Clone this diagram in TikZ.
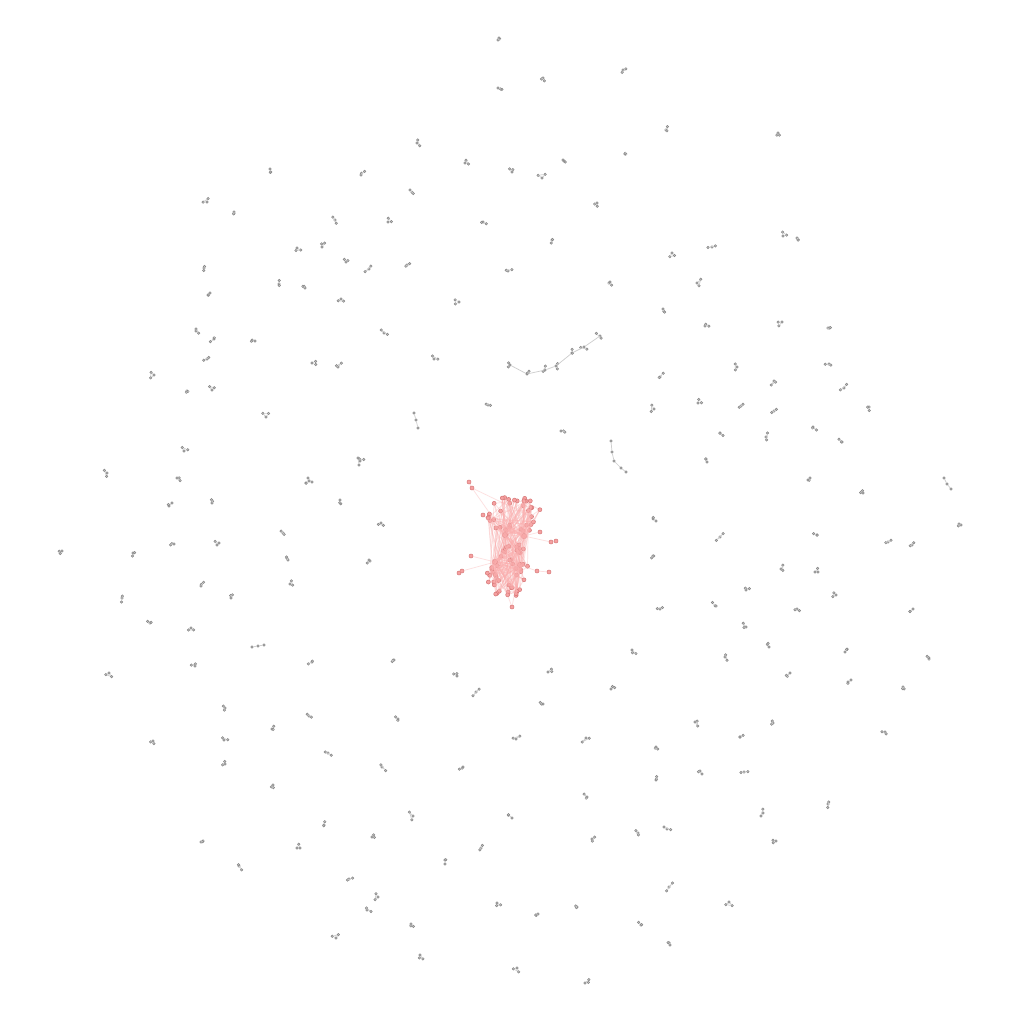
\documentclass[tikz,border=0pt]{standalone}
\usetikzlibrary{calc}
\definecolor{NodeGray}{RGB}{135,135,135}
\definecolor{FillGray}{RGB}{200,200,200}
\definecolor{EdgeGray}{RGB}{205,205,205}
\definecolor{NodeRed}{RGB}{215,120,120}
\definecolor{FillRed}{RGB}{245,160,160}
\definecolor{EdgeRed}{RGB}{250,175,175}
\tikzset{
  gnode/.style={circle,draw=NodeGray,fill=FillGray,inner sep=0pt,minimum size=0.25mm,line width=0.15pt},
  gedge/.style={draw=EdgeGray,line width=0.2pt},
  rnode/.style={circle,draw=NodeRed,fill=FillRed,inner sep=0pt,minimum size=0.4mm,line width=0.15pt},
  rhub/.style={rnode,minimum size=0.55mm},
  redge/.style={draw=EdgeRed,line width=0.2pt,opacity=0.4}
}

\begin{document}
\begin{tikzpicture}[x=0.01cm,y=-0.01cm]
\useasboundingbox[fill=white] (0,0) rectangle (1024,1024);
\pgfmathsetseed{11}
% small gray components
\foreach \x/\y [count=\n] in {498/40,543/78,623/70,498/88,666/130,778/133,417/143,465/163,563/160,625/154,
  270/169,361/175,512/172,542/178,410/190,597/203,207/202,234/212,335/220,388/222,483/222,552/240,783/236,
  797/238,712/247,672/253,297/248,322/247,346/262,407/265,369/269,508/271,204/268,279/284,305/288,697/283,
  610/282,210/293,341/299,459/302,663/309,255/341,214/339,196/331,384/333,705/326,782/322,828/328,434/359,
  312/363,338/367,207/359,154/375,737/367,660/377,829/364,774/381,844/388,187/391,212/390,266/417,488/405,
  654/409,698/403,741/406,774/411,869/407,707/462,720/433,766/437,813/427,842/442,184/451,107/473,177/478,
  309/481,360/461,810/478,561/431,169/506,212/503,340/500,381/523,656/521,863/493,961/525,283/533,720/537,
  817/535,888/542,912/545,62/551,133/553,174/544,219/543,288/560,369/560,653/556,781/569,815/572,122/598,
  201/586,231/598,290/584,746/590,836/595,797/609,913/609,660/609,716/606,150/623,191/628,746/627,632/650,
  769/647,845/652,109/673,195/666,312/662,394/660,725/657,548/672,790/673,929/659,848/682,457/676,476/692,
  611/689,903/687,543/704,225/708,398/719,309/716,695/722,773/723,272/729,224/740,153/741,328/753,516/739,
  586/738,740/737,656/747,885/732,225/764,382/767,463/767,700/771,744/772,273/785,656/780,587/797,828/804,
  763/813,324/825,413/816,512/818,638/833,667/829,592/839,203/841,372/837,297/848,481/848,776/841,445/860,
  239/866,669/887,349/879,378/897,729/902,367/910,497/903,538/914,577/907,411/924,641/925,336/938,670/945,
  420/955,517/968,585/983}{
  \node[gnode] (g\n-a) at (\x,\y) {};
  \node[gnode] (g\n-b) at ({\x+4*rand},{\y+4*rand}) {};
  \node[gnode] (g\n-c) at ({\x+4*rand},{\y+4*rand}) {};
  \draw[gedge] (g\n-a) -- (g\n-b) -- (g\n-c) -- (g\n-a);
}
% gray chains
\foreach \x/\y [count=\n] in {600/336,584/347,572/353,556/366,545/370,527/374,510/365}{
  \node[gnode] (k\n-a) at (\x,\y) {};
  \node[gnode] (k\n-b) at ({\x+4*rand},{\y+4*rand}) {};
  \node[gnode] (k\n-c) at ({\x+4*rand},{\y+4*rand}) {};
  \draw[gedge] (k\n-a) -- (k\n-b) -- (k\n-c);
}
\foreach \n [evaluate=\n as \m using int(\n+1)] in {1,...,6}
  \draw[gedge] (k\n-a) -- (k\m-a);
\foreach \x/\y [count=\n] in {611/441,612/452,614/461,621/468,626/472,414/413,416/420,418/428,
  944/478,947/484,951/489,252/647,258/646,264/645,308/478,312/482,358/458,359/465}{
  \node[gnode] (c\n) at (\x,\y) {};
}
\draw[gedge] (c1) -- (c2) -- (c3) -- (c4) -- (c5);
\draw[gedge] (c6) -- (c7) -- (c8);
\draw[gedge] (c9) -- (c10) -- (c11);
\draw[gedge] (c12) -- (c13) -- (c14);
\draw[gedge] (c15) -- (c16);
\draw[gedge] (c17) -- (c18);
% red cluster
\node[rhub] (h1) at (505,535) {};
\node[rhub] (h2) at (524,536) {};
\node[rhub] (h3) at (495,562) {};
\node[rhub] (h4) at (520,565) {};
\foreach \i in {1,...,36}{
  \pgfmathsetmacro\a{360*rnd}
  \pgfmathsetmacro\r{0.35+0.65*sqrt(rnd)}
  \node[rnode] (r\i) at ({514+27*\r*cos(\a)},{515+19*\r*sin(\a)}) {};
}
\foreach \i in {37,...,72}{
  \pgfmathsetmacro\a{360*rnd}
  \pgfmathsetmacro\r{0.2+0.8*sqrt(rnd)}
  \node[rnode] (r\i) at ({509+23*\r*cos(\a)},{578+20*\r*sin(\a)}) {};
}
\foreach \i in {73,...,86}{
  \node[rnode] (r\i) at ({512+12*rand},{549+8*rand}) {};
}
\foreach \i in {1,...,36}{
  \draw[redge] (r\i) -- (h1);
  \draw[redge] (r\i) -- (h2);
}
\foreach \i in {37,...,72}{
  \draw[redge] (r\i) -- (h3);
  \draw[redge] (r\i) -- (h4);
}
\foreach \i in {73,...,86}{
  \draw[redge] (r\i) -- (h1);
  \draw[redge] (r\i) -- (h3);
  \draw[redge] (r\i) -- (h4);
}
\foreach \i in {1,...,86}{
  \pgfmathtruncatemacro\j{random(1,86)}
  \pgfmathtruncatemacro\k{random(1,86)}
  \draw[redge] (r\i) -- (r\j);
  \draw[redge] (r\i) -- (r\k);
}
\draw[redge] (h1) -- (h2) -- (h4) -- (h3) -- (h1) -- (h4);
\draw[redge] (h2) -- (h3);
% outlying red nodes
\node[rnode] (o1) at (469,482) {};
\node[rnode] (o2) at (472,488) {};
\node[rnode] (o3) at (556,541) {};
\node[rnode] (o4) at (551,542) {};
\node[rnode] (o5) at (471,556) {};
\node[rnode] (o6) at (459,573) {};
\node[rnode] (o7) at (462,571) {};
\node[rnode] (o8) at (549,572) {};
\node[rnode] (o9) at (512,607) {};
\node[rnode] (o10) at (483,515) {};
\node[rnode] (o11) at (537,571) {};
\node[rnode] (o12) at (540,532) {};
\draw[redge] (o1) -- (o2) -- (h1);
\draw[redge] (o2) -- (r3);
\draw[redge] (o3) -- (o4) -- (h2);
\draw[redge] (o5) -- (h3);
\draw[redge] (o6) -- (o7) -- (h3);
\draw[redge] (o8) -- (o11) -- (h4);
\draw[redge] (o9) -- (h4);
\draw[redge] (o9) -- (h3);
\draw[redge] (o10) -- (h1);
\draw[redge] (o12) -- (h2);
\end{tikzpicture}
\end{document}
